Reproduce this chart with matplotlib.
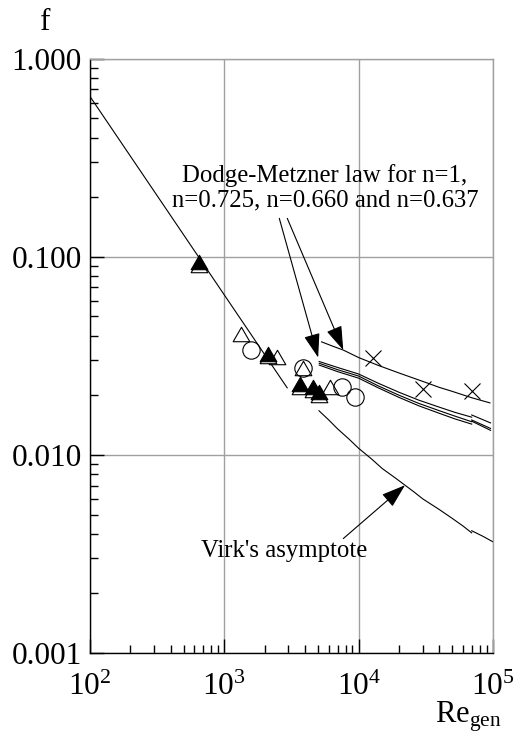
import matplotlib
matplotlib.use('Agg')
import matplotlib.pyplot as plt
import matplotlib.transforms as mtransforms
from matplotlib.path import Path
from matplotlib.ticker import LogLocator, FixedLocator, FixedFormatter, NullFormatter, LogFormatterMathtext

plt.rcParams['font.family'] = 'Liberation Serif'
plt.rcParams['mathtext.fontset'] = 'custom'
plt.rcParams['mathtext.rm'] = 'Liberation Serif'
plt.rcParams['mathtext.it'] = 'Liberation Serif:italic'

# laminar branch, f = 64/Re
re_lam = [100, 2940]
f_lam = [0.645, 0.0218]

# Virk's maximum drag reduction asymptote (drawn in two pieces)
re_virk = [5070, 6000, 7000, 8500, 10000, 12500, 15000, 18500, 22160, 26000, 30000, 40000, 50000, 60000, 69500]
f_virk = [0.0167, 0.0150, 0.0135, 0.0120, 0.0108, 0.00953, 0.00853, 0.00770, 0.00703, 0.00648, 0.0060, 0.00529, 0.00477, 0.00437, 0.00404]
re_virk_end = [69500, 85000, 100000]
f_virk_end = [0.00414, 0.00387, 0.00364]

# Dodge-Metzner law, n = 1
re_dm1 = [5300, 6400, 7700, 10000, 14000, 20000, 30000, 40000, 50000, 70000, 95000]
f_dm1 = [0.0372, 0.0354, 0.0338, 0.0310, 0.0283, 0.0259, 0.0235, 0.0219, 0.0209, 0.0194, 0.0183]

# Dodge-Metzner law, n = 0.725 / 0.660 / 0.637
re_dm = [5090, 7000, 10000, 14000, 20000, 28000, 40000, 52000, 69500]
f_dm725 = [0.0296, 0.0276, 0.0256, 0.0230, 0.0207, 0.0189, 0.0174, 0.0164, 0.0155]
f_dm660 = [0.0290, 0.0269, 0.0250, 0.0223, 0.0200, 0.0182, 0.0167, 0.0157, 0.0147]
f_dm637 = [0.0284, 0.0263, 0.0244, 0.0218, 0.0195, 0.0177, 0.0162, 0.0152, 0.0143]
re_dm_end = [69500, 96000]
f_dm725_end = [0.0159, 0.0145]
f_dm660_end = [0.0150, 0.0136]
f_dm637_end = [0.0148, 0.0133]

# measurements
re_tri_full = [652, 2130, 3660, 4600, 5070]
f_tri_full = [0.094, 0.0324, 0.0228, 0.0219, 0.0207]
re_tri_open = [1330, 2480, 3870, 6120]
f_tri_open = [0.0406, 0.0313, 0.0273, 0.0221]
re_circ = [1580, 3870, 7480, 9400]
f_circ = [0.0338, 0.0273, 0.0221, 0.0196]
re_cross = [12700, 30300, 69500]
f_cross = [0.0310, 0.0215, 0.0210]

y_ticks = [0.001, 0.01, 0.1, 1.0]
y_labels = ['0.001', '0.010', '0.100', '1.000']

fig = plt.figure(figsize=(5.14, 7.38), dpi=100)
ax = fig.add_axes([0.175, 0.1152, 0.784, 0.8053])
ax.set_xscale('log')
ax.set_yscale('log')
ax.set_xlim(100, 1e5)
ax.set_ylim(0.001, 1.0)

ax.grid(True, which='major', color='#a0a0a0', lw=1.0)
ax.set_axisbelow(True)
for s in ['top', 'right']:
    ax.spines[s].set_color('#a0a0a0')
    ax.spines[s].set_linewidth(1.0)
for s in ['left', 'bottom']:
    ax.spines[s].set_linewidth(1.0)

ax.xaxis.set_major_locator(LogLocator(base=10))
ax.xaxis.set_minor_locator(LogLocator(base=10, subs=range(2, 10)))
ax.xaxis.set_major_formatter(LogFormatterMathtext())
ax.xaxis.set_minor_formatter(NullFormatter())
ax.yaxis.set_major_locator(FixedLocator(y_ticks))
ax.yaxis.set_major_formatter(FixedFormatter(y_labels))
ax.yaxis.set_minor_locator(LogLocator(base=10, subs=range(2, 10)))
ax.yaxis.set_minor_formatter(NullFormatter())
ax.tick_params(which='both', direction='in', top=False, right=False, width=1.0)
ax.tick_params(which='major', length=10, labelsize=22.5)
ax.tick_params(which='minor', length=6)
ax.tick_params(axis='x', which='major', pad=14)
ax.tick_params(axis='y', which='major', pad=6)

lw = 0.8
ax.plot(re_lam, f_lam, color='black', lw=lw)
ax.plot(re_virk, f_virk, color='black', lw=lw)
ax.plot(re_virk_end, f_virk_end, color='black', lw=lw)
ax.plot(re_dm1, f_dm1, color='black', lw=lw)
for fa, fb in [(f_dm725, f_dm725_end), (f_dm660, f_dm660_end), (f_dm637, f_dm637_end)]:
    ax.plot(re_dm, fa, color='black', lw=lw)
    ax.plot(re_dm_end, fb, color='black', lw=lw)

# equilateral triangle marker, closed so the outline is complete
tri = Path([(-1, -0.866), (1, -0.866), (0, 0.866), (-1, -0.866)],
           [Path.MOVETO, Path.LINETO, Path.LINETO, Path.CLOSEPOLY])
mew = 0.8
ax.plot(re_circ, f_circ, ls='none', marker='o', ms=12.5, mfc='none', mec='black', mew=mew, zorder=4)
ax.plot(re_tri_open, f_tri_open, ls='none', marker=tri, ms=12, mfc='none', mec='black', mew=mew, zorder=4)
ax.plot(re_cross, f_cross, ls='none', marker='x', ms=11.5, mec='black', mew=mew, zorder=4)
# filled triangles sit on a slightly lower outlined copy
shift = mtransforms.ScaledTranslation(0, -0.026, fig.dpi_scale_trans)
ax.plot(re_tri_full, f_tri_full, ls='none', marker=tri, ms=12, mfc='white', mec='black', mew=mew,
        zorder=5, transform=ax.transData + shift)
ax.plot(re_tri_full, f_tri_full, ls='none', marker=tri, ms=12, mfc='black', mec='black', mew=mew, zorder=6)

arrow = dict(arrowstyle='-|>,head_length=1.5,head_width=0.5', mutation_scale=10,
             color='black', lw=0.8, shrinkA=0, shrinkB=0)
ax.annotate('', xy=(5000, 0.031), xytext=(2568, 0.1563), arrowprops=arrow)
ax.annotate('', xy=(7690, 0.0338), xytext=(2944, 0.1563), arrowprops=arrow)
ax.annotate('', xy=(22160, 0.00703), xytext=(7690, 0.00378), arrowprops=arrow)

ax.text(5620, 0.222, 'Dodge-Metzner law for n=1,\nn=0.725, n=0.660 and n=0.637',
        ha='center', va='center', multialignment='center', fontsize=17.8, linespacing=1.15)
ax.text(2782, 0.00305, "Virk's asymptote", ha='center', va='baseline', fontsize=17.8)

fig.text(0.0875, 0.969, 'f', ha='center', va='center', fontsize=22.5)
fig.text(435 / 514, 1 - 723 / 738, r'$\mathregular{Re_{gen}}$', ha='left', va='baseline', fontsize=22)

fig.savefig('out.png', dpi=100)
